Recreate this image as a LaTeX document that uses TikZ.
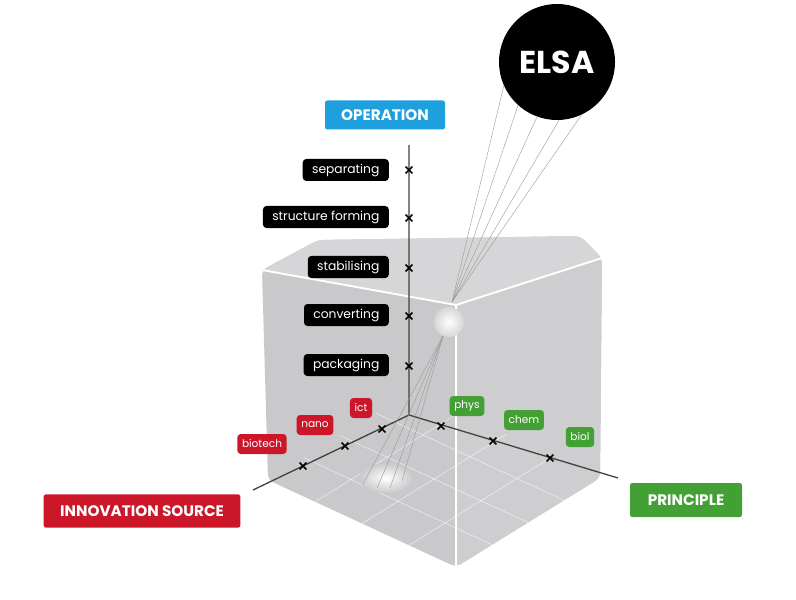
\documentclass[tikz,border=0pt]{standalone}
\usepackage{fontspec}
\setmainfont{Poppins}
\usetikzlibrary{shapes.misc,calc}
\definecolor{opblue}{RGB}{30,160,222}
\definecolor{isred}{RGB}{204,22,42}
\definecolor{prgreen}{RGB}{66,160,52}
\definecolor{cubeg}{RGB}{201,201,204}
\definecolor{cubet}{RGB}{214,214,216}
\definecolor{cuber}{RGB}{206,206,209}
\begin{document}
\begin{tikzpicture}[x=0.03cm,y=-0.03cm]
\tikzstyle{hd} = [rounded corners=2pt,text=white,font=\bfseries\fontsize{13}{15}\selectfont,minimum height=0.95cm,inner xsep=6pt] %header box
\tikzstyle{lb} = [rounded corners=3pt,text=white,font=\fontsize{10.5}{12}\selectfont,minimum height=0.66cm,inner xsep=8pt,inner ysep=0pt] %label box
\tikzstyle{sl} = [lb,font=\fontsize{9}{10}\selectfont,minimum height=0.6cm,inner xsep=4pt] %small label box
\tikzstyle{tk} = [cross out,draw=black,line width=1.3pt,minimum size=4.5pt,inner sep=0pt] %tick
\tikzstyle{ax} = [-,line width=1.1pt,draw=black!75] %axis
\tikzstyle{ry} = [-,line width=0.35pt,draw=black!40] %ray
\tikzstyle{gl} = [-,line width=0.6pt,draw=white,opacity=0.55] %floor grid
\useasboundingbox (0,0) rectangle (796,600);
% cube
\fill[cubeg,rounded corners=5pt] (262,270) -- (318,240) -- (580,236) -- (602,258) -- (600,478) -- (456,567) -- (268,480) -- cycle;
\fill[cubet,rounded corners=5pt] (262,270) -- (318,240) -- (580,236) -- (602,258) -- (456,305) -- cycle;
\fill[cuber,rounded corners=4pt] (456,305) -- (602,258) -- (600,478) -- (456,567) -- cycle;
\coordinate (cf) at (456,567);
\coordinate (cl) at (268,480);
\coordinate (cr) at (600,478);
\coordinate (cb) at (412,391);
\foreach \i in {1,2,3}{
  \draw[gl] ($(cf)!\i/4!(cl)$) -- ($(cr)!\i/4!(cb)$);
  \draw[gl] ($(cf)!\i/4!(cr)$) -- ($(cl)!\i/4!(cb)$);
}
\draw[white,line width=1.6pt,line join=round] (262,270) -- (456,305) -- (602,258);
\draw[white,line width=1.6pt] (456,305) -- (456,567);
% axes
\coordinate (vo) at (409,415);
\coordinate (vz) at (409,145);
\coordinate (vx) at (253,490);
\coordinate (vy) at (618,478);
\draw[ax] (vz) -- (vo) -- (vx);
\draw[ax] (vo) -- (vy);
\foreach \y/\n in {170/1,218/2,268/3,316/4,366/5}
  \node[tk] (tz\n) at (409,\y) {};
\foreach \x/\y/\n in {382/429/1,345/446/2,303/466/3}
  \node[tk] (tx\n) at (\x,\y) {};
\foreach \x/\y/\n in {441/426/1,493/441/2,550/458/3}
  \node[tk] (ty\n) at (\x,\y) {};
% glow spots
\shade[inner color=white,outer color=cubet] (449,322) circle (15);
\shade[inner color=white,outer color=cubeg] (386,478) ellipse (27 and 15);
% ELSA and rays
\node[circle,fill=black,minimum size=3.48cm,text=white,font=\bfseries\fontsize{27}{30}\selectfont] (elsa) at (557,62) {ELSA};
\coordinate (sp) at (452,302);
\coordinate (sb) at (443,336);
\foreach \a in {204,228,250,272,295}
  \draw[ry] (elsa.\a) -- (sp);
\foreach \x/\y in {363/484,377/488,390/488,402/481}
  \draw[ry] (sb) -- (\x,\y);
% operation labels
\node[hd,fill=opblue,minimum width=3.6cm,minimum height=0.87cm] (op) at (385,115) {OPERATION};
\node[lb,fill=black,anchor=east] (l1) at (389,170) {separating};
\node[lb,fill=black,anchor=east] (l2) at (389,217) {structure forming};
\node[lb,fill=black,anchor=east] (l3) at (389,267) {stabilising};
\node[lb,fill=black,anchor=east] (l4) at (389,315) {converting};
\node[lb,fill=black,anchor=east] (l5) at (389,365) {packaging};
% innovation source labels
\node[hd,fill=isred,minimum width=5.9cm,minimum height=1cm] (is) at (142,511) {INNOVATION SOURCE};
\node[sl,fill=isred] (r1) at (361,408) {ict};
\node[sl,fill=isred] (r2) at (315,425) {nano};
\node[sl,fill=isred] (r3) at (262,444) {biotech};
% principle labels
\node[hd,fill=prgreen,minimum width=3.36cm,minimum height=1.02cm] (pr) at (686,500) {PRINCIPLE};
\node[sl,fill=prgreen] (g1) at (467,406) {phys};
\node[sl,fill=prgreen] (g2) at (524,420) {chem};
\node[sl,fill=prgreen] (g3) at (580,437) {biol};
\end{tikzpicture}
\end{document}
